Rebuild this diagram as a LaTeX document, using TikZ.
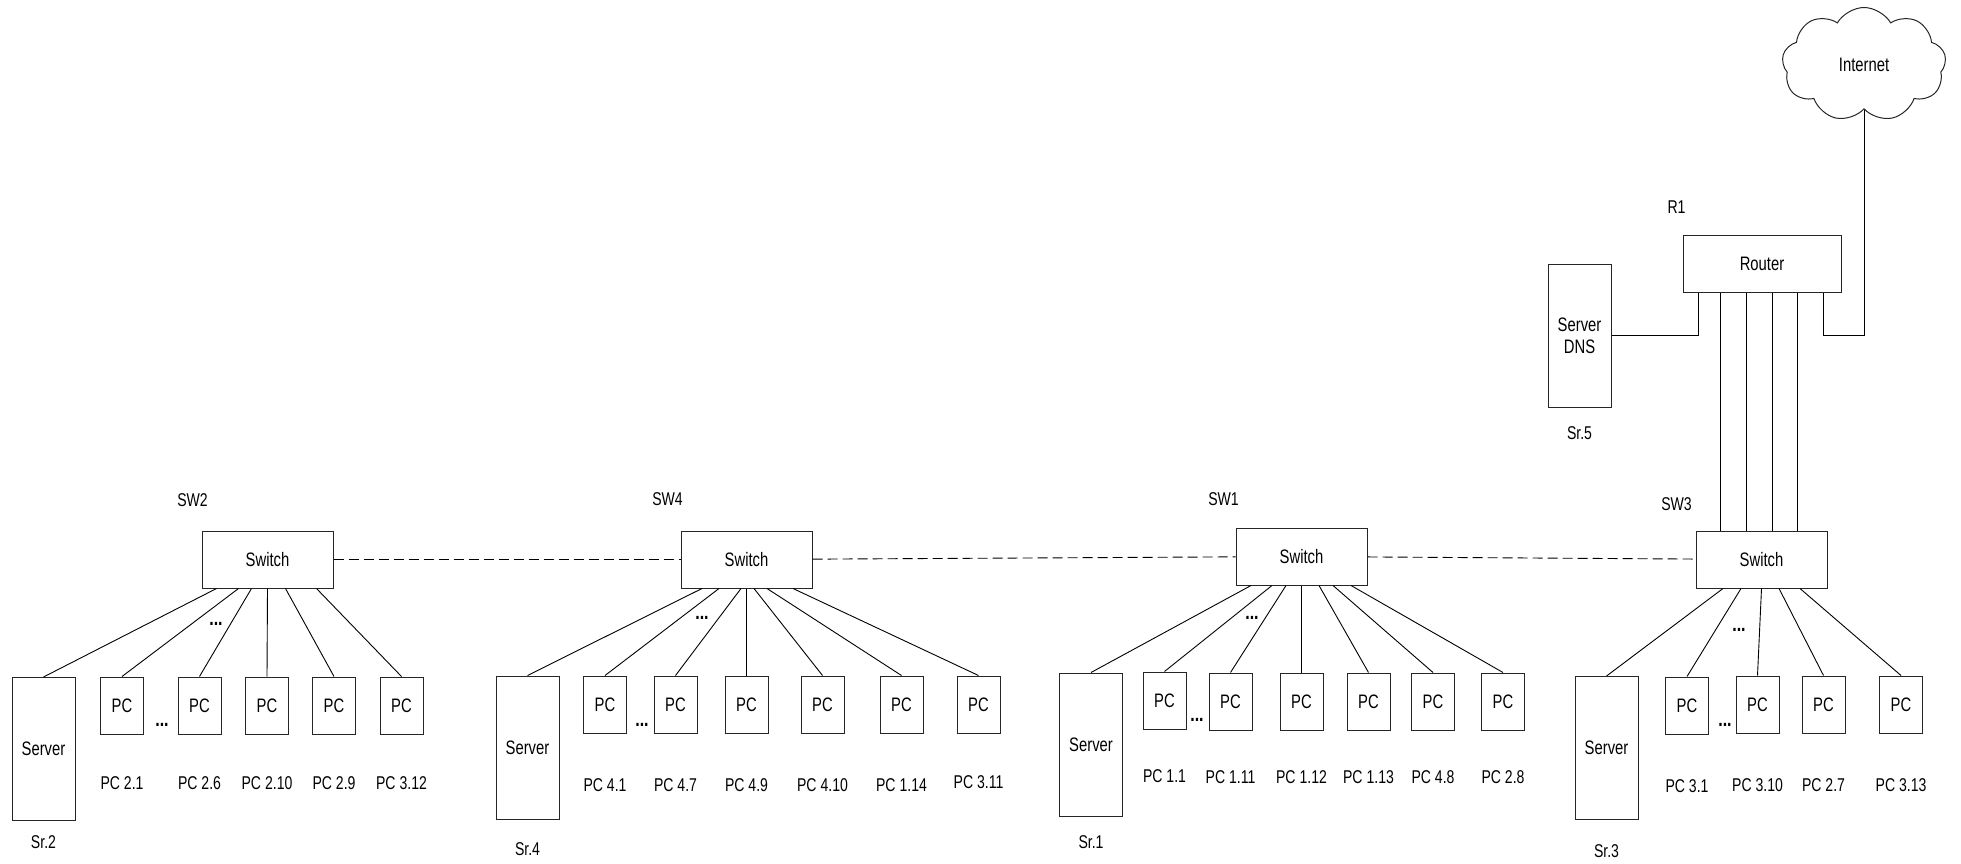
\documentclass[tikz,border=0pt]{standalone}
\usepackage{fontspec}
\setmainfont{Liberation Sans}[FakeStretch=0.76]
\usetikzlibrary{positioning, shapes.symbols}

\begin{document}
\begin{tikzpicture}[
  x=1pt, y=-1pt,
  box/.style={draw=black!85, line width=1pt, inner sep=0pt, font=\fontsize{19.5}{22}\selectfont},
  switch/.style={box, minimum width=131pt, minimum height=57pt},
  pc/.style={box, minimum width=43pt, minimum height=57pt},
  server/.style={box, minimum width=63pt, minimum height=143pt, align=center},
  tag/.style={font=\fontsize{18.5}{21}\selectfont},
  dots/.style={inner sep=0pt, font=\fontsize{21}{23}\selectfont\bfseries},
  link/.style={line width=0.9pt},
  trunk/.style={link, dash pattern=on 10pt off 5pt}
]
\useasboundingbox (0,0) rectangle (1961,864);

% switches, router, internet
\node[switch] (sw2) at (267.5,559.5) {Switch};
\node[switch] (sw4) at (746.5,559.5) {Switch};
\node[switch] (sw1) at (1301.5,556.5) {Switch};
\node[switch] (sw3) at (1761.5,559.5) {Switch};
\node[box, minimum width=158pt, minimum height=57pt] (router) at (1762,263.5) {Router};
\node[server] (srv5) at (1579.5,335.5) {Server\\DNS};
\node[box, cloud, cloud puffs=9, cloud puff arc=120, aspect=1.5,
      minimum width=164pt, minimum height=114pt] (inet) at (1864,64.5) {Internet};

\node[tag, above=20pt of sw2.north west, xshift=-9pt] (sw2tag) {SW2};
\node[tag, above=21pt of sw4.north west, xshift=-13pt] (sw4tag) {SW4};
\node[tag, above=18pt of sw1.north west, xshift=-12pt] (sw1tag) {SW1};
\node[tag, above=16pt of sw3.north west, xshift=-19pt] (sw3tag) {SW3};
\node[tag, above=17pt of router.north west, xshift=-6pt] (r1tag) {R1};
\node[tag, below=16pt of srv5] (sr5) {Sr.5};

% SW2
\node[server] (srv2) at (43.5,749) {Server};
\node[pc] (pc21) at (122,705.5) {PC};
\node[pc] (pc26) at (199.5,705.5) {PC};
\node[pc] (pc210) at (267,705.5) {PC};
\node[pc] (pc29) at (334,705.5) {PC};
\node[pc] (pc312) at (401.5,705.5) {PC};
\node[tag, below=11pt of srv2] (sr2) {Sr.2};
\node[tag, below=39pt of pc21] (l21) {PC 2.1};
\node[tag, below=39pt of pc26] (l26) {PC 2.6};
\node[tag, below=39pt of pc210] (l210) {PC 2.10};
\node[tag, below=39pt of pc29] (l29) {PC 2.9};
\node[tag, below=39pt of pc312] (l312) {PC 3.12};
\node[dots] (d2a) at (216,624) {...};
\node[dots] (d2b) at (162,725) {...};

% SW4
\node[server] (srv4) at (527.5,747.5) {Server};
\node[pc] (pc41) at (605,704.5) {PC};
\node[pc] (pc47) at (675.5,704.5) {PC};
\node[pc] (pc49) at (746.5,704.5) {PC};
\node[pc] (pc410) at (822.5,704.5) {PC};
\node[pc] (pc114) at (901.5,704.5) {PC};
\node[pc] (pc311) at (978.5,704.5) {PC};
\node[tag, below=20pt of srv4] (sr4) {Sr.4};
\node[tag, below=42pt of pc41] (l41) {PC 4.1};
\node[tag, below=42pt of pc47] (l47) {PC 4.7};
\node[tag, below=42pt of pc49] (l49) {PC 4.9};
\node[tag, below=42pt of pc410] (l410) {PC 4.10};
\node[tag, below=42pt of pc114] (l114) {PC 1.14};
\node[tag, below=39pt of pc311] (l311) {PC 3.11};
\node[dots] (d4a) at (702,618) {...};
\node[dots] (d4b) at (642,725) {...};

% SW1
\node[server] (srv1) at (1091,744.5) {Server};
\node[pc] (pc11) at (1164.5,700.5) {PC};
\node[pc] (pc111) at (1230.5,701.5) {PC};
\node[pc] (pc112) at (1301.5,701.5) {PC};
\node[pc] (pc113) at (1368.5,701.5) {PC};
\node[pc] (pc48) at (1433,701.5) {PC};
\node[pc] (pc28) at (1503,701.5) {PC};
\node[tag, below=16pt of srv1] (sr1) {Sr.1};
\node[tag, below=36.5pt of pc11] (l11) {PC 1.1};
\node[tag, below=36.5pt of pc111] (l111) {PC 1.11};
\node[tag, below=36.5pt of pc112] (l112) {PC 1.12};
\node[tag, below=36.5pt of pc113] (l113) {PC 1.13};
\node[tag, below=36.5pt of pc48] (l48) {PC 4.8};
\node[tag, below=36.5pt of pc28] (l28) {PC 2.8};
\node[dots] (d1a) at (1252,618) {...};
\node[dots] (d1b) at (1197,720) {...};

% SW3
\node[server] (srv3) at (1606.5,748) {Server};
\node[pc] (pc31) at (1687,705.5) {PC};
\node[pc] (pc310) at (1757.5,704.5) {PC};
\node[pc] (pc27) at (1823.5,704.5) {PC};
\node[pc] (pc313) at (1901,704.5) {PC};
\node[tag, below=21pt of srv3] (sr3) {Sr.3};
\node[tag, below=42pt of pc31] (l31) {PC 3.1};
\node[tag, below=42pt of pc310] (l310) {PC 3.10};
\node[tag, below=42pt of pc27] (l27) {PC 2.7};
\node[tag, below=42pt of pc313] (l313) {PC 3.13};
\node[dots] (d3a) at (1739,630) {...};
\node[dots] (d3b) at (1725,725) {...};

% links between switches
\draw[trunk] (sw2) -- (sw4);
\draw[trunk] (sw4) -- (sw1);
\draw[trunk] (sw1) -- (sw3);

% router links
\draw[link] ([xshift=-42pt]router.south) -- ([xshift=-42pt]router.south |- sw3.north);
\draw[link] ([xshift=-16pt]router.south) -- ([xshift=-16pt]router.south |- sw3.north);
\draw[link] ([xshift=10pt]router.south) -- ([xshift=10pt]router.south |- sw3.north);
\draw[link] ([xshift=35pt]router.south) -- ([xshift=35pt]router.south |- sw3.north);
\draw[link] (srv5.east) -| ([xshift=-64pt]router.south);
\draw[link] ([xshift=61pt]router.south) |- (srv5.east -| inet.south) -- (inet.south);

% SW2 links
\draw[link] ([xshift=-51pt]sw2.south) -- (srv2.north);
\draw[link] ([xshift=-29pt]sw2.south) -- (pc21.north);
\draw[link] ([xshift=-16pt]sw2.south) -- (pc26.north);
\draw[link] (sw2.south) -- (pc210.north);
\draw[link] ([xshift=18pt]sw2.south) -- (pc29.north);
\draw[link] ([xshift=49pt]sw2.south) -- (pc312.north);

% SW4 links
\draw[link] ([xshift=-44.5pt]sw4.south) -- (srv4.north);
\draw[link] ([xshift=-27.5pt]sw4.south) -- (pc41.north);
\draw[link] ([xshift=-5.5pt]sw4.south) -- (pc47.north);
\draw[link] (sw4.south) -- (pc49.north);
\draw[link] ([xshift=7.5pt]sw4.south) -- (pc410.north);
\draw[link] ([xshift=20.5pt]sw4.south) -- (pc114.north);
\draw[link] ([xshift=46.5pt]sw4.south) -- (pc311.north);

% SW1 links
\draw[link] ([xshift=-50.5pt]sw1.south) -- (srv1.north);
\draw[link] ([xshift=-29.5pt]sw1.south) -- (pc11.north);
\draw[link] ([xshift=-15.5pt]sw1.south) -- (pc111.north);
\draw[link] (sw1.south) -- (pc112.north);
\draw[link] ([xshift=17.5pt]sw1.south) -- (pc113.north);
\draw[link] ([xshift=31.5pt]sw1.south) -- (pc48.north);
\draw[link] ([xshift=49.5pt]sw1.south) -- (pc28.north);

% SW3 links
\draw[link] ([xshift=-38.5pt]sw3.south) -- (srv3.north);
\draw[link] ([xshift=-20.5pt]sw3.south) -- (pc31.north);
\draw[link] (sw3.south) -- (pc310.north);
\draw[link] ([xshift=17.5pt]sw3.south) -- (pc27.north);
\draw[link] ([xshift=38.5pt]sw3.south) -- (pc313.north);
\end{tikzpicture}
\end{document}
